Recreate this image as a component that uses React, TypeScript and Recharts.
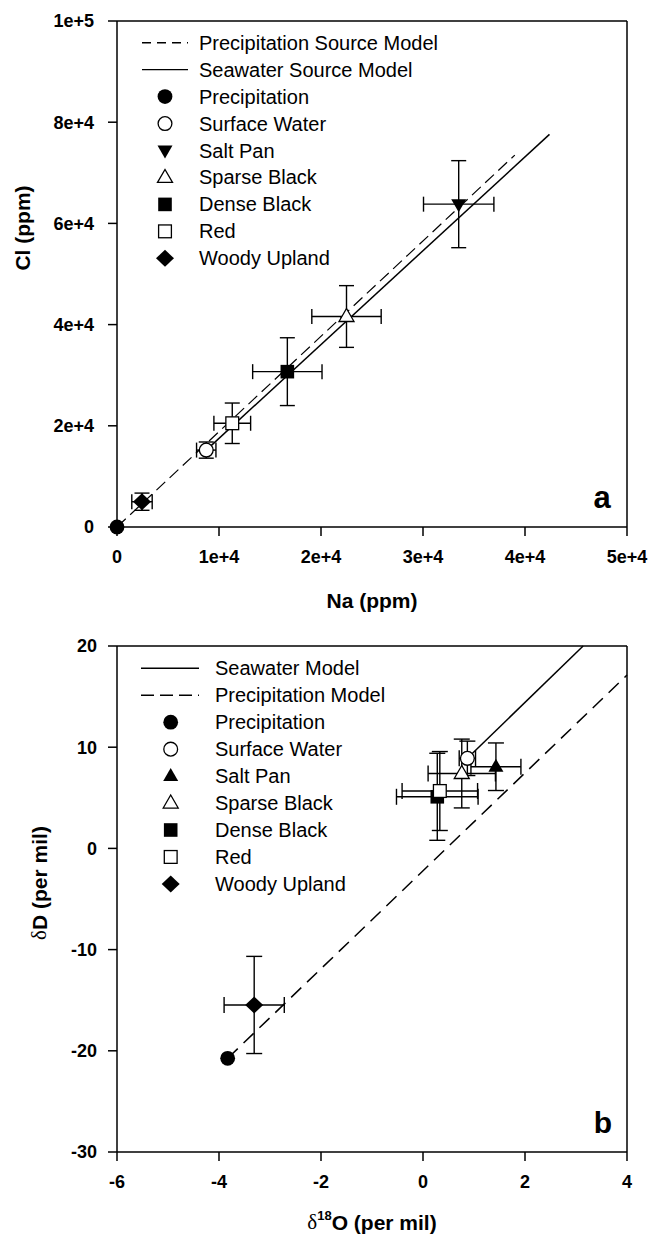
import React from "react"
import { ScatterChart, Scatter, XAxis, YAxis, ErrorBar, ReferenceLine, Customized } from "recharts"

const FONT = '"Liberation Sans", Arial, sans-serif'

// sample groups (same order in both panels)
const groups = ["Precipitation", "Surface Water", "Salt Pan", "Sparse Black", "Dense Black", "Red", "Woody Upland"]

// panel a: Na vs Cl (ppm), mean and error
const naMean = [0, 8750, 33500, 22500, 16700, 11300, 2450]
const naErr = [0, 950, 3450, 3400, 3400, 1800, 1000]
const clMean = [0, 15200, 63800, 41600, 30700, 20500, 5000]
const clErr = [0, 1600, 8600, 6100, 6700, 4000, 1700]

// panel a model lines
const seawaterLineA = [
  { x: 8750, y: 15200 },
  { x: 42400, y: 77600 },
]
const precipLineA = [
  { x: 0, y: 0 },
  { x: 39000, y: 73500 },
]

// panel b: d18O vs dD (per mil)
const d18OMean = [-3.83, 0.87, 1.43, 0.76, 0.28, 0.33, -3.31]
const d18OErr = [0, 0.16, 0.49, 0.66, 0.8, 0.74, 0.59]
const dDMean = [-20.74, 8.9, 8.07, 7.4, 5.1, 5.67, -15.47]
const dDErr = [0, 1.7, 2.35, 3.4, 4.3, 3.9, 4.8]

const seawaterLineB = [
  { x: 0.87, y: 8.9 },
  { x: 3.14, y: 20 },
]
const precipLineB = [
  { x: -3.83, y: -20.74 },
  { x: 4, y: 17.13 },
]

// ticks
const xTicksA = [0, 10000, 20000, 30000, 40000, 50000]
const xTickLabelsA = ["0", "1e+4", "2e+4", "3e+4", "4e+4", "5e+4"]
const yTicksA = [0, 20000, 40000, 60000, 80000, 100000]
const yTickLabelsA = ["0", "2e+4", "4e+4", "6e+4", "8e+4", "1e+5"]
const xTicksB = [-6, -4, -2, 0, 2, 4]
const yTicksB = [-30, -20, -10, 0, 10, 20]

const markersA = ["circle", "openCircle", "triDown", "openTriUp", "square", "openSquare", "diamond"]
const markersB = ["circle", "openCircle", "triUp", "openTriUp", "square", "openSquare", "diamond"]

const dataA = groups.map((g, i) => ({ name: g, x: naMean[i], y: clMean[i], xErr: naErr[i], yErr: clErr[i] }))
const dataB = groups.map((g, i) => ({ name: g, x: d18OMean[i], y: dDMean[i], xErr: d18OErr[i], yErr: dDErr[i] }))

function Marker({ kind, cx, cy }: { kind: string; cx: number; cy: number }) {
  const sw = 1.3
  switch (kind) {
    case "circle":
      return <circle cx={cx} cy={cy} r={7.4} fill="#000" />
    case "openCircle":
      return <circle cx={cx} cy={cy} r={6.9} fill="#fff" stroke="#000" strokeWidth={sw} />
    case "triDown":
      return <polygon points={`${cx - 7.5},${cy - 5} ${cx + 7.5},${cy - 5} ${cx},${cy + 8}`} fill="#000" />
    case "triUp":
      return <polygon points={`${cx - 7.5},${cy + 5} ${cx + 7.5},${cy + 5} ${cx},${cy - 8}`} fill="#000" />
    case "openTriUp":
      return (
        <polygon
          points={`${cx - 7.5},${cy + 5} ${cx + 7.5},${cy + 5} ${cx},${cy - 8}`}
          fill="#fff"
          stroke="#000"
          strokeWidth={sw}
        />
      )
    case "square":
      return <rect x={cx - 6.8} y={cy - 6.8} width={13.6} height={13.6} fill="#000" />
    case "openSquare":
      return <rect x={cx - 6.4} y={cy - 6.4} width={12.8} height={12.8} fill="#fff" stroke="#000" strokeWidth={sw} />
    case "diamond":
      return <polygon points={`${cx},${cy - 8.5} ${cx + 9},${cy} ${cx},${cy + 8.5} ${cx - 9},${cy}`} fill="#000" />
  }
  return <g />
}

interface LegendProps {
  labels: string[]
  lineKinds: string[]
  markers: string[]
  top: number
  x1: number
  x2: number
  mx: number
  tx: number
  dash: string
}

function LegendBlock({ labels, lineKinds, markers, top, x1, x2, mx, tx, dash }: LegendProps) {
  return (
    <g>
      {labels.map((label, i) => {
        const y = top + i * 26.95
        let sym: React.ReactNode
        if (i < lineKinds.length) {
          sym = (
            <line
              x1={x1}
              x2={x2}
              y1={y}
              y2={y}
              stroke="#000"
              strokeWidth={1.4}
              strokeDasharray={lineKinds[i] === "dash" ? dash : undefined}
            />
          )
        } else {
          sym = <Marker kind={markers[i - lineKinds.length]} cx={mx} cy={y} />
        }
        return (
          <g key={label}>
            {sym}
            <text x={tx} y={y} dominantBaseline="central" fontSize={20} fontFamily={FONT} fill="#000">
              {label}
            </text>
          </g>
        )
      })}
    </g>
  )
}

const axisProps = {
  axisLine: { stroke: "#000", strokeWidth: 1.5 },
  tickLine: { stroke: "#000", strokeWidth: 1.5 },
  tick: { fill: "#000", fontSize: 18, fontWeight: 700, fontFamily: FONT },
  tickSize: 9,
  interval: 0 as const,
}

const titleStyle = { fontSize: 21, fontWeight: 700, fontFamily: FONT, fill: "#000" }

function OverlayA() {
  return (
    <g>
      <text x={372} y={600} textAnchor="middle" dominantBaseline="central" style={titleStyle}>
        Na (ppm)
      </text>
      <text x={22} y={228} textAnchor="middle" dominantBaseline="central" transform="rotate(-90 22 228)" style={titleStyle}>
        Cl (ppm)
      </text>
      <text x={602} y={508} textAnchor="middle" style={{ ...titleStyle, fontSize: 31 }}>
        a
      </text>
      <LegendBlock
        labels={["Precipitation Source Model", "Seawater Source Model", ...groups]}
        lineKinds={["dash", "solid"]}
        markers={markersA}
        top={42.7}
        x1={142}
        x2={188}
        mx={165}
        tx={199}
        dash="9 6"
      />
    </g>
  )
}

function OverlayB() {
  return (
    <g>
      <text x={372} y={602} textAnchor="middle" dominantBaseline="central" style={titleStyle}>
        <tspan fontFamily='"Liberation Serif", serif' fontWeight={400}>δ</tspan>
        <tspan fontSize={13} dy={-7}>18</tspan>
        <tspan dy={7}>O (per mil)</tspan>
      </text>
      <text x={39} y={263} textAnchor="middle" dominantBaseline="central" transform="rotate(-90 39 263)" style={titleStyle}>
        <tspan fontFamily='"Liberation Serif", serif' fontWeight={400}>δ</tspan>D (per mil)
      </text>
      <text x={603} y={513} textAnchor="middle" style={{ ...titleStyle, fontSize: 30 }}>
        b
      </text>
      <LegendBlock
        labels={["Seawater Model", "Precipitation Model", ...groups]}
        lineKinds={["solid", "dash"]}
        markers={markersB}
        top={48.3}
        x1={141}
        x2={199}
        mx={170.7}
        tx={215}
        dash="13 6"
      />
    </g>
  )
}

function groupSeries(data: typeof dataA, markers: string[], capWidth: number) {
  return data.map((d, i) => (
    <Scatter
      key={d.name}
      name={d.name}
      data={[d]}
      isAnimationActive={false}
      shape={(p: any) => <Marker kind={markers[i]} cx={p.cx} cy={p.cy} />}
    >
      <ErrorBar dataKey="xErr" direction="x" width={capWidth} stroke="#000" strokeWidth={1.4} />
      <ErrorBar dataKey="yErr" direction="y" width={capWidth} stroke="#000" strokeWidth={1.4} />
    </Scatter>
  ))
}

export default function App() {
  return (
    <div style={{ position: "absolute", left: 0, top: 0, width: 649, height: 1239, background: "#fff" }}>
      <ScatterChart width={649} height={620} margin={{ top: 21, right: 22, bottom: 0, left: 0 }}>
        <XAxis
          type="number"
          dataKey="x"
          domain={[0, 50000]}
          ticks={xTicksA}
          tickFormatter={(v: number) => xTickLabelsA[xTicksA.indexOf(v)]}
          height={93}
          tickMargin={14}
          {...axisProps}
        />
        <YAxis
          type="number"
          dataKey="y"
          domain={[0, 100000]}
          ticks={yTicksA}
          tickFormatter={(v: number) => yTickLabelsA[yTicksA.indexOf(v)]}
          width={117}
          tickMargin={14}
          {...axisProps}
        />
        <ReferenceLine y={100000} stroke="#000" strokeWidth={1.5} />
        <ReferenceLine x={50000} stroke="#000" strokeWidth={1.5} />
        <Scatter
          data={precipLineA}
          line={{ stroke: "#000", strokeWidth: 1.2, strokeDasharray: "12 6" }}
          shape={() => <g />}
          isAnimationActive={false}
        />
        <Scatter
          data={seawaterLineA}
          line={{ stroke: "#000", strokeWidth: 1.5 }}
          shape={() => <g />}
          isAnimationActive={false}
        />
        {groupSeries(dataA, markersA, 7.5)}
        <Customized component={OverlayA} />
      </ScatterChart>
      <ScatterChart width={649} height={619} margin={{ top: 26, right: 22, bottom: 0, left: 0 }}>
        <XAxis
          type="number"
          dataKey="x"
          domain={[-6, 4]}
          ticks={xTicksB}
          height={87}
          tickMargin={14}
          {...axisProps}
        />
        <YAxis
          type="number"
          dataKey="y"
          domain={[-30, 20]}
          ticks={yTicksB}
          width={117}
          tickMargin={11}
          {...axisProps}
        />
        <ReferenceLine y={20} stroke="#000" strokeWidth={1.5} />
        <ReferenceLine x={4} stroke="#000" strokeWidth={1.5} />
        <Scatter
          data={seawaterLineB}
          line={{ stroke: "#000", strokeWidth: 1.5 }}
          shape={() => <g />}
          isAnimationActive={false}
        />
        <Scatter
          data={precipLineB}
          line={{ stroke: "#000", strokeWidth: 1.5, strokeDasharray: "14 8" }}
          shape={() => <g />}
          isAnimationActive={false}
        />
        {groupSeries(dataB, markersB, 8)}
        <Customized component={OverlayB} />
      </ScatterChart>
    </div>
  )
}
